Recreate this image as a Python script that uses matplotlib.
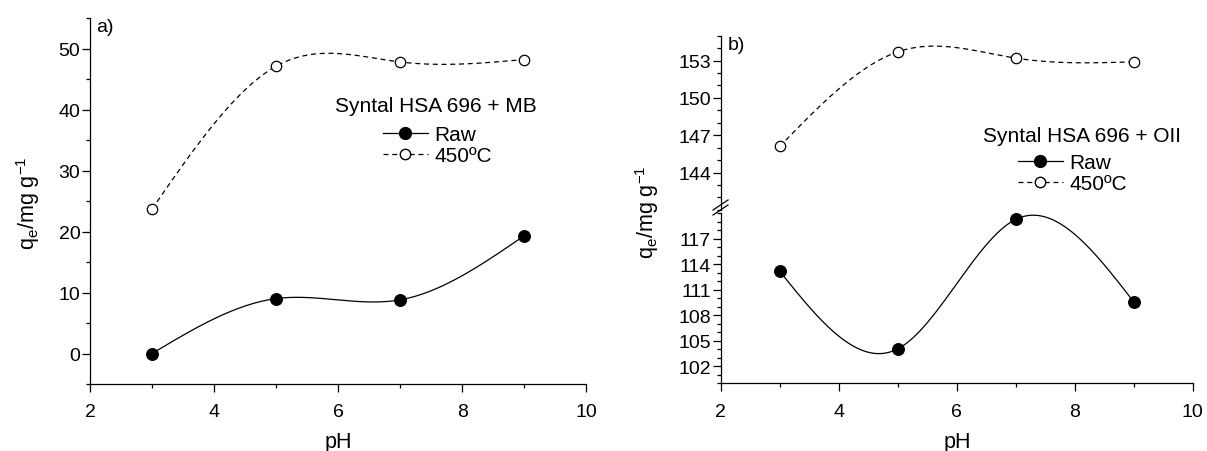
import numpy as np
import matplotlib
matplotlib.use("Agg")
import matplotlib.pyplot as plt
from matplotlib.ticker import MultipleLocator
from matplotlib.lines import Line2D

plt.rcParams['font.family'] = ['Liberation Sans', 'DejaVu Sans']
plt.rcParams['mathtext.fontset'] = 'custom'
plt.rcParams['mathtext.rm'] = 'Liberation Sans'
plt.rcParams['mathtext.it'] = 'Liberation Sans:italic'

# data
ph = [3, 5, 7, 9]
mb_raw = [0.0, 9.0, 8.8, 19.3]
mb_450 = [23.7, 47.1, 47.8, 48.2]
oii_raw = [113.2, 104.05, 119.3, 109.6]
oii_450 = [146.1, 153.7, 153.2, 152.9]

x_ticks = [2, 4, 6, 8, 10]
ylabel = r'q$_\mathregular{e}$/mg g$^{\mathregular{-1}}$'


def natural_spline(x, y, n=200):
    # natural cubic spline through the points (smooth connector like Origin)
    x = np.asarray(x, float)
    y = np.asarray(y, float)
    k = len(x)
    h = np.diff(x)
    A = np.zeros((k, k))
    b = np.zeros(k)
    A[0, 0] = 1
    A[-1, -1] = 1
    for i in range(1, k - 1):
        A[i, i - 1] = h[i - 1]
        A[i, i] = 2 * (h[i - 1] + h[i])
        A[i, i + 1] = h[i]
        b[i] = 6 * ((y[i + 1] - y[i]) / h[i] - (y[i] - y[i - 1]) / h[i - 1])
    M = np.linalg.solve(A, b)
    xs = np.linspace(x[0], x[-1], n)
    ys = np.empty_like(xs)
    for j, xv in enumerate(xs):
        i = min(np.searchsorted(x, xv, side='right') - 1, k - 2)
        t1 = x[i + 1] - xv
        t0 = xv - x[i]
        ys[j] = (M[i] * t1 ** 3 + M[i + 1] * t0 ** 3) / (6 * h[i]) \
            + (y[i] / h[i] - M[i] * h[i] / 6) * t1 \
            + (y[i + 1] / h[i] - M[i + 1] * h[i] / 6) * t0
    return xs, ys


FS = 14
LFS = 15
AFS = 15.5
raw_style = dict(color='black', lw=0.9)
hot_style = dict(color='black', lw=0.9, dashes=(4, 3))
raw_mk = dict(ls='none', marker='o', ms=8.5, mfc='black', mec='black', mew=0.8)
hot_mk = dict(ls='none', marker='o', ms=7.5, mfc='white', mec='black', mew=0.9)


def style_ax(ax, bottom=True):
    for s in ['top', 'right']:
        ax.spines[s].set_visible(False)
    ax.spines['left'].set_linewidth(0.9)
    ax.spines['bottom'].set_linewidth(0.9)
    if not bottom:
        ax.spines['bottom'].set_visible(False)
        ax.tick_params(axis='x', which='both', bottom=False, labelbottom=False)
    ax.tick_params(which='major', direction='out', length=6, width=0.9, labelsize=FS)
    ax.tick_params(which='minor', direction='out', length=3, width=0.9)
    ax.tick_params(axis='y', pad=1)
    ax.tick_params(axis='x', pad=8)


def draw(ax, xv, yv, line_kw, mk_kw):
    xs, ys = natural_spline(xv, yv)
    ax.plot(xs, ys, **line_kw)
    ax.plot(xv, yv, **mk_kw)


def legend_handles():
    h1 = Line2D([], [], marker='o', ms=8.5, mfc='black', mec='black', **raw_style)
    h2 = Line2D([], [], marker='o', ms=7.5, mfc='white', mec='black', **hot_style)
    return [h1, h2], ['Raw', '450ºC']


fig = plt.figure(figsize=(12.07, 4.52), dpi=100)

# panel a
ax1 = fig.add_axes([0.0746, 0.1482, 0.411, 0.8097])
draw(ax1, ph, mb_450, hot_style, hot_mk)
draw(ax1, ph, mb_raw, raw_style, raw_mk)
ax1.set_xlim(2, 10)
ax1.set_ylim(-5, 55)
ax1.set_xticks(x_ticks)
ax1.xaxis.set_minor_locator(MultipleLocator(1))
ax1.set_yticks([0, 10, 20, 30, 40, 50])
ax1.yaxis.set_minor_locator(MultipleLocator(5))
style_ax(ax1)
fig.text(96 / 1207, 1 - 27 / 452, 'a)', fontsize=FS, va='center', ha='left')
fig.text(28 / 1207, 1 - 203 / 452, ylabel, fontsize=AFS, rotation=90, va='center', ha='center')
fig.text(338 / 1207, 1 - 443 / 452, 'pH', fontsize=AFS, va='center', ha='center')
fig.text(335 / 1207, 1 - 107 / 452, 'Syntal HSA 696 + MB', fontsize=LFS, va='center', ha='left')
hs, ls = legend_handles()
fig.legend(hs, ls, loc='upper left', bbox_to_anchor=(383 / 1207, 1 - 126 / 452),
           frameon=False, fontsize=LFS, handlelength=2.15, handletextpad=0.3,
           labelspacing=0.1, borderpad=0, borderaxespad=0)

# panel b (broken y axis)
axl = fig.add_axes([0.5971, 0.1498, 0.391, 0.3757])
axu = fig.add_axes([0.5971, 0.5334, 0.391, 0.3854])
for ax in (axl, axu):
    draw(ax, ph, oii_450, hot_style, hot_mk)
    draw(ax, ph, oii_raw, raw_style, raw_mk)
    ax.set_xlim(2, 10)
    ax.patch.set_alpha(0)
axl.set_ylim(100, 120)
axl.set_yticks([102, 105, 108, 111, 114, 117])
axl.yaxis.set_minor_locator(MultipleLocator(1))
axl.set_xticks(x_ticks)
axl.xaxis.set_minor_locator(MultipleLocator(1))
style_ax(axl)
axu.set_ylim(141, 155)
axu.set_yticks([144, 147, 150, 153])
axu.yaxis.set_minor_locator(MultipleLocator(1))
style_ax(axu, bottom=False)

# break marks on the y axis
for yy in (206, 211):
    fig.add_artist(Line2D([713 / 1207, 728 / 1207],
                          [1 - (yy + 5) / 452, 1 - (yy - 5) / 452],
                          color='black', lw=0.9))
fig.text(728 / 1207, 1 - 45 / 452, 'b)', fontsize=FS, va='center', ha='left')
fig.text(647 / 1207, 1 - 212 / 452, ylabel, fontsize=AFS, rotation=90, va='center', ha='center')
fig.text(957 / 1207, 1 - 443 / 452, 'pH', fontsize=AFS, va='center', ha='center')
fig.text(983 / 1207, 1 - 137 / 452, 'Syntal HSA 696 + OII', fontsize=LFS, va='center', ha='left')
hs, ls = legend_handles()
fig.legend(hs, ls, loc='upper left', bbox_to_anchor=(1018 / 1207, 1 - 154 / 452),
           frameon=False, fontsize=LFS, handlelength=2.15, handletextpad=0.3,
           labelspacing=0.1, borderpad=0, borderaxespad=0)

fig.savefig('out.png', dpi=100)
